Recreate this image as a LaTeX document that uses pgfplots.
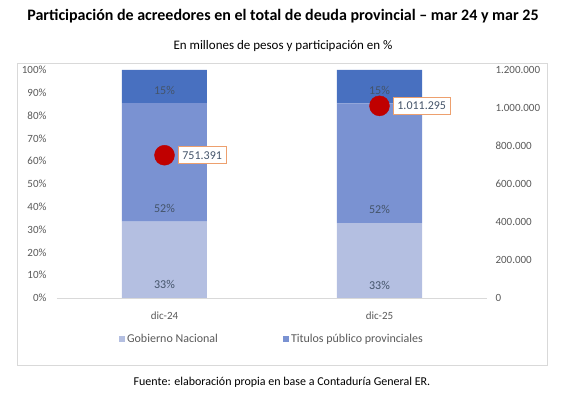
\documentclass[border=0pt]{standalone}
\usepackage{fontspec}
\setmainfont{Carlito}
\usepackage{pgfplots}
\pgfplotsset{compat=1.18}
\definecolor{cLight}{RGB}{180,191,225}
\definecolor{cMid}{RGB}{122,146,210}
\definecolor{cTop}{RGB}{72,112,192}
\definecolor{cRed}{RGB}{192,0,0}
\definecolor{cOrange}{RGB}{237,160,110}
\definecolor{cTick}{RGB}{89,89,89}
\definecolor{cLbl}{RGB}{68,84,106}
\definecolor{cBorder}{RGB}{217,217,217}
\begin{document}
\begin{tikzpicture}[x=1pt,y=1pt]
\useasboundingbox (0,0) rectangle (566,399);
\draw[cBorder, line width=0.8pt] (17,34) rectangle (547,336);
\node[font=\bfseries\fontsize{16}{18}\selectfont] at (283,383) {Participación de acreedores en el total de deuda provincial – mar 24 y mar 25};
\node[font=\fontsize{13}{15}\selectfont] at (283,353) {En millones de pesos y participación en \%};
\node[font=\fontsize{12}{14}\selectfont] at (282,17) {Fuente: elaboración propia en base a Contaduría General ER.};

\begin{axis}[
  at={(57pt,101pt)}, anchor=south west,
  width=430pt, height=228pt, scale only axis,
  xmin=-0.5, xmax=1.5, ymin=0, ymax=100,
  ybar stacked, bar width=85pt,
  xtick={0,1}, xticklabels={dic-24,dic-25},
  ytick={0,10,...,100},
  /pgf/number format/assume math mode=true,
  yticklabel={\pgfmathprintnumber{\tick}\%},
  axis x line*=bottom, axis y line*=left,
  x axis line style={cBorder, line width=0.8pt, -},
  y axis line style={draw=none},
  major tick length=0pt,
  tick label style={font=\fontsize{11}{13}\selectfont, text=cTick},
  yticklabel style={anchor=east, xshift=-7pt},
  xticklabel style={anchor=north, yshift=-10pt},
  legend style={at={(0.5,-0.18)}, anchor=center, draw=none, fill=none,
    legend columns=2, font=\fontsize{12}{14}\selectfont, text=cTick,
    /tikz/every even column/.append style={column sep=63pt}},
  legend image code/.code={\fill[#1,draw=none] (0pt,-3pt) rectangle (6pt,3pt);},
  nodes near coords, point meta=explicit symbolic,
  every node near coord/.append style={font=\fontsize{12}{14}\selectfont, text=cLbl, anchor=center},
]
\addplot[fill=cLight, draw=none, nodes near coords style={yshift=-25pt}]
  coordinates {(0,33.5) [33\%] (1,32.8) [33\%]};
\addlegendentry{Gobierno Nacional}
\addplot[fill=cMid, draw=none, nodes near coords style={yshift=-46pt}]
  coordinates {(0,52.0) [52\%] (1,52.6) [52\%]};
\addlegendentry{Titulos público provinciales}
\addplot[fill=cTop, draw=none, nodes near coords style={yshift=-3.5pt}]
  coordinates {(0,14.5) [15\%] (1,14.6) [15\%]};
\end{axis}

\begin{axis}[
  at={(57pt,101pt)}, anchor=south west,
  width=430pt, height=228pt, scale only axis,
  xmin=-0.5, xmax=1.5, ymin=0, ymax=1200000,
  axis x line=none, axis y line*=right,
  y axis line style={draw=none},
  major tick length=0pt,
  ytick={0,200000,400000,600000,800000,1000000,1200000},
  scaled y ticks=false,
  /pgf/number format/assume math mode=true,
  /pgf/number format/fixed,
  /pgf/number format/1000 sep={.},
  tick label style={font=\fontsize{11}{13}\selectfont, text=cTick},
  yticklabel style={anchor=west, xshift=5pt},
]
\addplot[only marks, mark=*, mark size=10pt, color=cRed,
  nodes near coords, point meta=explicit symbolic,
  every node near coord/.append style={anchor=west, xshift=13pt, draw=cOrange, line width=0.8pt,
    fill=white, text=cLbl, font=\fontsize{12}{14}\selectfont, inner xsep=4.5pt, minimum height=17pt}]
  coordinates {(0,751391) [751.391] (1,1011295) [1.011.295]};
\end{axis}
\end{tikzpicture}
\end{document}
